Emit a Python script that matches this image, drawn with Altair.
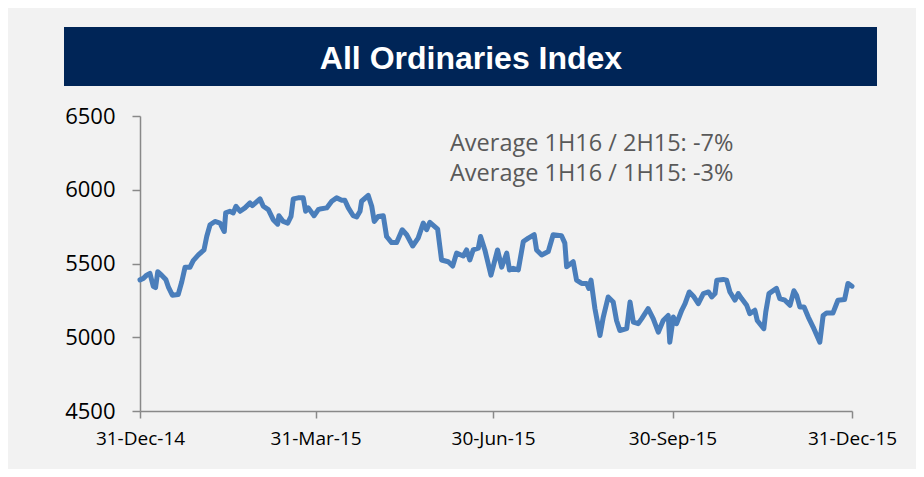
import altair as alt
import pandas as pd

# days after 31-Dec-14
day = [0, 1.7, 3.4, 5.1, 6.8, 8.0, 9.1, 11.1, 13.2, 14.5, 16.6, 19.6, 21.4, 23.1, 25.6,
       27.3, 29.9, 32.8, 34.2, 35.9, 38.4, 41.0, 43.2, 43.9, 46.1, 47.8, 49.2, 51.3, 53.8,
       56.4, 57.6, 61.5, 63.2, 65.8, 68.3, 70.6, 71.2, 73.4, 75.7, 77.4, 78.6, 81.1, 83.7,
       84.9, 86.3, 89.2, 91.4, 92.3, 95.7, 98.3, 100.8, 103.4, 105.0, 106.8, 109.3, 111.1,
       112.8, 113.6, 117.0, 118.8, 120.1, 122.1, 124.7, 126.4, 129.0, 131.6, 134.4, 136.7,
       139.8, 142.6, 145.2, 146.9, 148.6, 152.6, 154.6, 158.0, 160.3, 162.3, 165.7, 167.4,
       169.1, 170.8, 173.4, 174.6, 176.8, 179.9, 183.3, 185.4, 188.0, 189.4, 191.3, 193.9,
       196.5, 199.1, 202.1, 203.3, 205.9, 209.3, 211.8, 216.1, 217.8, 218.7, 222.1, 223.8,
       226.4, 229.0, 230.1, 231.2, 233.2, 235.8, 237.5, 240.0, 242.6, 244.3, 246.0, 249.5,
       251.2, 252.9, 255.4, 257.2, 260.5, 263.1, 265.7, 268.2, 270.8, 271.6, 273.4, 275.1,
       277.7, 279.4, 281.6, 283.7, 286.2, 288.8, 291.4, 293.1, 294.8, 295.7, 299.0, 300.7,
       302.4, 305.0, 306.7, 308.4, 311.0, 312.6, 315.2, 316.4, 319.8, 320.8, 322.4, 326.3,
       328.0, 330.6, 333.2, 335.2, 336.6, 338.3, 340.4, 342.6, 345.1, 348.5, 350.2, 351.9,
       355.2, 357.8, 361.2, 362.9, 365.0]
index_value = [5389, 5399, 5421, 5433, 5346, 5337, 5444, 5421, 5392, 5342, 5285, 5290, 5376,
               5474, 5474, 5519, 5558, 5592, 5683, 5763, 5785, 5774, 5717, 5843, 5854, 5843,
               5888, 5854, 5877, 5911, 5893, 5938, 5888, 5865, 5797, 5767, 5824, 5785, 5774,
               5819, 5938, 5945, 5945, 5854, 5877, 5824, 5865, 5870, 5877, 5922, 5945, 5929,
               5929, 5877, 5824, 5815, 5854, 5922, 5961, 5888, 5785, 5819, 5824, 5683, 5642,
               5642, 5729, 5695, 5619, 5672, 5774, 5729, 5779, 5733, 5524, 5512, 5483, 5570,
               5551, 5592, 5524, 5592, 5604, 5683, 5592, 5421, 5592, 5475, 5570, 5456, 5467,
               5456, 5649, 5672, 5695, 5592, 5558, 5581, 5695, 5688, 5638, 5478, 5512, 5387,
               5365, 5365, 5331, 5387, 5194, 5012, 5137, 5273, 5239, 5114, 5046, 5058, 5239,
               5103, 5092, 5126, 5194, 5126, 5034, 5114, 5148, 4966, 5137, 5092, 5183, 5228,
               5307, 5278, 5228, 5296, 5307, 5273, 5296, 5387, 5392, 5387, 5307, 5251, 5296,
               5262, 5217, 5160, 5183, 5114, 5058, 5171, 5296, 5331, 5262, 5251, 5217, 5315,
               5285, 5205, 5205, 5137, 5069, 4966, 5148, 5164, 5164, 5251, 5256, 5365, 5346]

y_ticks = [4500, 5000, 5500, 6000, 6500]
x_ticks = ["2014-12-31", "2015-03-31", "2015-06-30", "2015-09-30", "2015-12-31"]
title_text = "All Ordinaries Index"
notes = ["Average 1H16 / 2H15: -7%", "Average 1H16 / 1H15: -3%"]

start = pd.Timestamp("2014-12-31")
df = pd.DataFrame({
    "date": [start + pd.Timedelta(hours=round(d * 24)) for d in day],
    "value": index_value,
})

def dt(s):
    t = pd.Timestamp(s)
    return alt.DateTime(year=t.year, month=t.month, date=t.day)

x_enc = alt.X(
    "date:T",
    scale=alt.Scale(domain=[dt(x_ticks[0]), dt(x_ticks[-1])], nice=False),
    axis=alt.Axis(values=[dt(s) for s in x_ticks], format="%d-%b-%y", title=None,
                  grid=False, labelFont="Open Sans", labelFontSize=19, labelColor="#000000",
                  labelPadding=11, tickSize=7, tickColor="#898989", tickWidth=1.5,
                  domainColor="#898989", domainWidth=1.5, labelOverlap=False,
                  labelFlush=False),
)
y_enc = alt.Y(
    "value:Q",
    scale=alt.Scale(domain=[4500, 6500], nice=False, zero=False),
    axis=alt.Axis(values=y_ticks, format="d", title=None, grid=False,
                  labelFont="Open Sans", labelFontSize=22, labelColor="#000000",
                  labelPadding=17, tickSize=8, tickColor="#898989", tickWidth=1.5,
                  domainColor="#898989", domainWidth=1.5),
)

line = alt.Chart(df).mark_line(color="#4a7ebb", strokeWidth=5, strokeJoin="round",
                               strokeCap="round").encode(x=x_enc, y=y_enc)

bar = alt.Chart(pd.DataFrame({"t": [title_text]})).mark_rect(color="#002557").encode(
    x=alt.value(-76), x2=alt.value(737), y=alt.value(-89), y2=alt.value(-30))

title = alt.Chart(pd.DataFrame({"t": [title_text]})).mark_text(
    font="Liberation Sans", fontWeight="bold", fontSize=32, color="#ffffff",
    align="center", baseline="alphabetic").encode(
    text="t:N", x=alt.value(331), y=alt.value(-47))

note = alt.Chart(pd.DataFrame({"t": [notes]})).mark_text(
    font="Open Sans", fontSize=23.5, color="#595959", align="left",
    baseline="alphabetic", lineHeight=30).encode(
    text="t", x=alt.value(310), y=alt.value(35))

chart = alt.layer(bar, title, note, line).properties(
    width=712, height=295,
    padding={"left": 132, "top": 108, "right": 64, "bottom": 58},
    autosize=alt.AutoSizeParams(type="none"),
    background="#f2f2f2",
).configure_view(stroke=None)

chart.save("out.html", embed_options={"renderer": "svg", "actions": False})
